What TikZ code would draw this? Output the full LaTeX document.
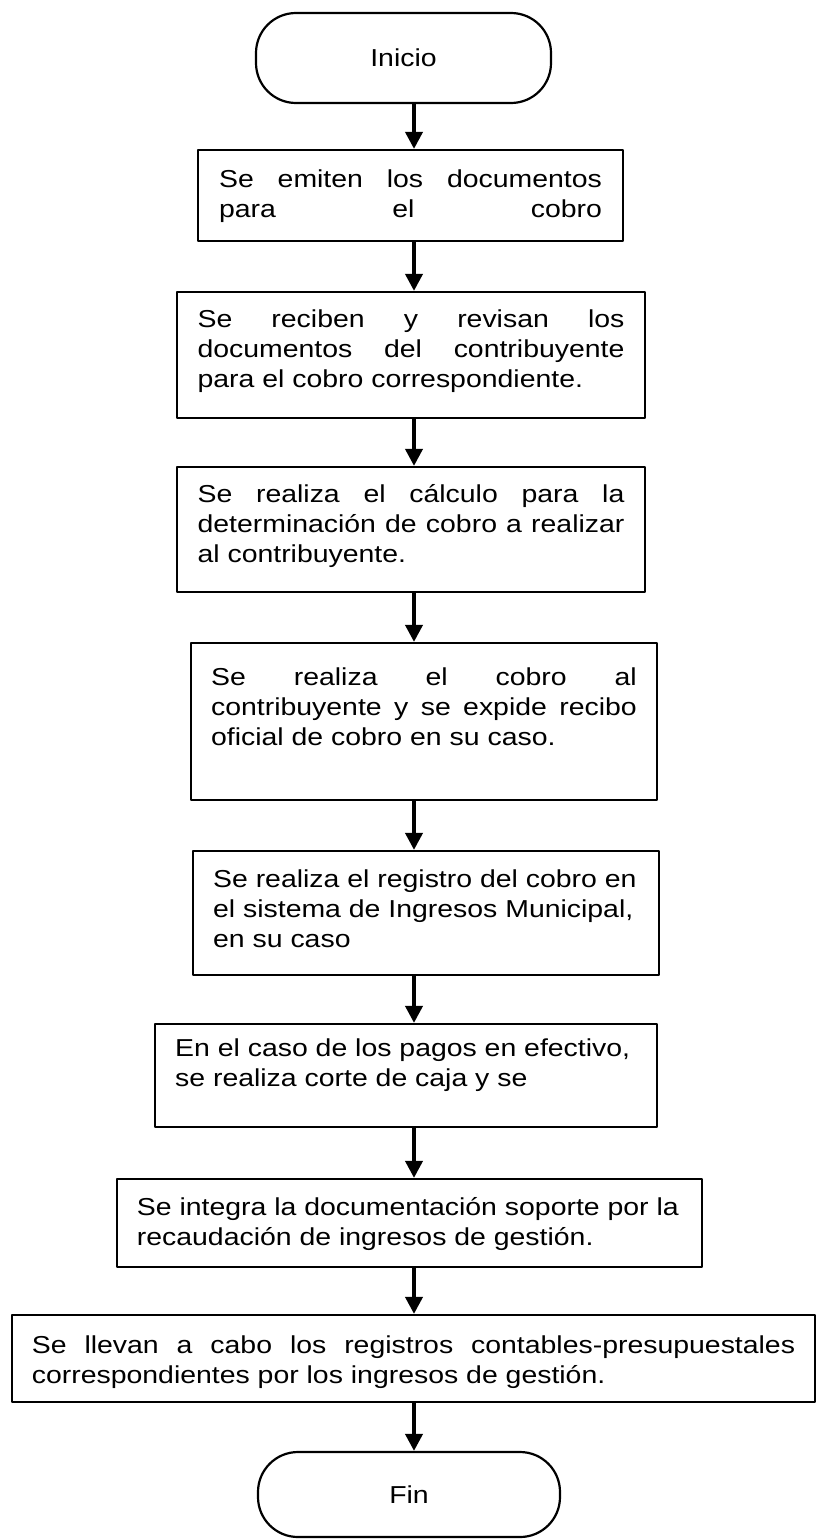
\documentclass[tikz,border=0pt]{standalone}
\usepackage{fontspec}
\setmainfont{Liberation Sans}
\usepackage{graphicx}
\usetikzlibrary{arrows.meta}
\newcommand{\linea}[1]{\makebox[\linewidth][s]{#1}}
\newcommand{\texto}[3]{\scalebox{1.16}[1]{\parbox[c][#1pt][t]{#2pt}{\null#3}}}
\tikzset{
  every node/.style={font=\fontsize{24.5}{30}\selectfont},
  caja/.style={draw,line width=2.2pt,inner sep=0pt},
  terminal/.style={draw,line width=2.2pt,inner sep=0pt,rounded corners=40pt},
  flecha/.style={line width=3.8pt,-{Triangle[length=17pt,width=17pt]}}
}
\begin{document}
\begin{tikzpicture}[x=1pt,y=-1pt,line cap=round,line join=round]
  \useasboundingbox (0,0) rectangle (817,1539);
  \coordinate (eje) at (414,0);
  \node[terminal,minimum width=295pt,minimum height=90pt] (ini) at (403.5,58) {\scalebox{1.16}[1]{Inicio}};
  \node[caja,minimum width=425pt,minimum height=91pt] (n1) at (410.5,195.5)
    {\texto{77}{330}{\linea{Se emiten los documentos}\\\linea{para el cobro}}};
  \node[caja,minimum width=468pt,minimum height=126pt] (n2) at (411,355)
    {\texto{116}{368}{\linea{Se reciben y revisan los}\\\linea{documentos del contribuyente}\\para el cobro correspondiente.}};
  \node[caja,minimum width=468pt,minimum height=125pt] (n3) at (411,529.5)
    {\texto{115}{368}{\linea{Se realiza el cálculo para la}\\\linea{determinación de cobro a realizar}\\al contribuyente.}};
  \node[caja,minimum width=466pt,minimum height=157pt] (n4) at (424,721.5)
    {\texto{133}{367}{\linea{Se realiza el cobro al}\\\linea{contribuyente y se expide recibo}\\oficial de cobro en su caso.}};
  \node[caja,minimum width=466pt,minimum height=124pt] (n5) at (426,913)
    {\texto{112}{367}{Se realiza el registro del cobro en\\el sistema de Ingresos Municipal,\\en su caso}};
  \node[caja,minimum width=502pt,minimum height=103pt] (n6) at (406,1075.5)
    {\texto{99}{398}{En el caso de los pagos en efectivo,\\se realiza corte de caja y se}};
  \node[caja,minimum width=585pt,minimum height=88pt] (n7) at (409.5,1223)
    {\texto{76}{470}{Se integra la documentación soporte por la\\recaudación de ingresos de gestión.}};
  \node[caja,minimum width=803pt,minimum height=87pt] (n8) at (413.5,1358.5)
    {\texto{71}{658}{\linea{Se llevan a cabo los registros contables-presupuestales}\\correspondientes por los ingresos de gestión.}};
  \node[terminal,minimum width=302pt,minimum height=85pt] (fin) at (409,1494.5) {\scalebox{1.16}[1]{Fin}};
  \draw[flecha] (ini.south -| eje) -- (n1.north -| eje);
  \draw[flecha] (n1.south -| eje) -- (n2.north -| eje);
  \draw[flecha] (n2.south -| eje) -- (n3.north -| eje);
  \draw[flecha] (n3.south -| eje) -- (n4.north -| eje);
  \draw[flecha] (n4.south -| eje) -- (n5.north -| eje);
  \draw[flecha] (n5.south -| eje) -- (n6.north -| eje);
  \draw[flecha] (n6.south -| eje) -- (n7.north -| eje);
  \draw[flecha] (n7.south -| eje) -- (n8.north -| eje);
  \draw[flecha] (n8.south -| eje) -- (fin.north -| eje);
\end{tikzpicture}
\end{document}
